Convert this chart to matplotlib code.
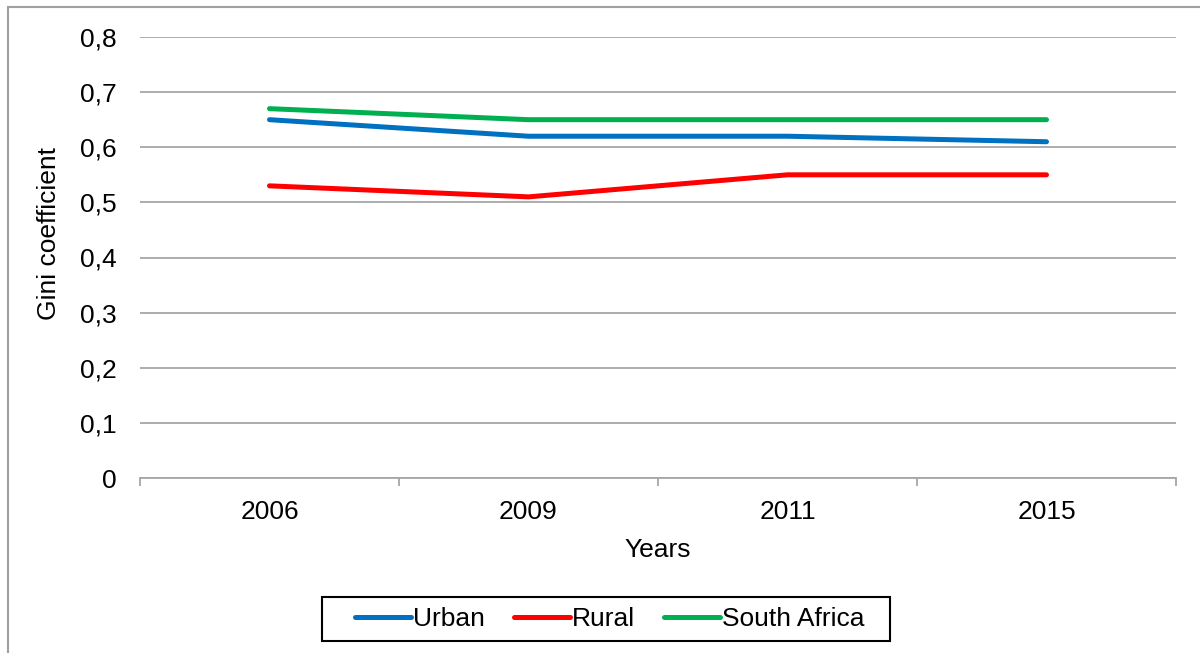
import matplotlib
matplotlib.use("Agg")
import matplotlib.pyplot as plt
from matplotlib.patches import Rectangle
from matplotlib.ticker import FuncFormatter, FixedLocator

years = ["2006", "2009", "2011", "2015"]
urban = [0.65, 0.62, 0.62, 0.61]
rural = [0.53, 0.51, 0.55, 0.55]
south_africa = [0.67, 0.65, 0.65, 0.65]

plt.rcParams['font.family'] = ['Liberation Sans', 'DejaVu Sans']
FS = 19
W, H = 1200, 653

fig = plt.figure(figsize=(12, 6.53), dpi=100)
# outer chart border (only left & top visible in reference)
fig.add_artist(Rectangle((8/W, -0.05), 1.2, 1 - 7/H + 0.05, transform=fig.transFigure,
                         fill=False, edgecolor='#a0a0a0', lw=1.5))

ax = fig.add_axes([140/W, 1 - 478/H, (1176 - 140)/W, (478 - 37)/H])
x = [i + 0.5 for i in range(len(years))]
ax.plot(x, urban, color='#0070C0', lw=3.6, solid_capstyle='round', label='Urban')
ax.plot(x, rural, color='#FF0000', lw=3.6, solid_capstyle='round', label='Rural')
ax.plot(x, south_africa, color='#00B050', lw=3.6, solid_capstyle='round', label='South Africa')

ax.set_xlim(0, len(years))
ax.set_ylim(0, 0.8)
ax.set_yticks([i / 10 for i in range(9)])
ax.yaxis.set_major_formatter(FuncFormatter(lambda v, p: ('%.1f' % v).replace('.', ',') if v != 0 else '0'))
ax.grid(axis='y', color='#a6a6a6', lw=1.3)
ax.set_axisbelow(True)
for s in ['top', 'right', 'left']:
    ax.spines[s].set_visible(False)
ax.spines['bottom'].set_color('#a6a6a6')
ax.spines['bottom'].set_linewidth(1.3)
ax.tick_params(axis='y', length=0, labelsize=FS, pad=17)
ax.xaxis.set_major_locator(FixedLocator(list(range(len(years) + 1))))
ax.xaxis.set_major_formatter(FuncFormatter(lambda v, p: ''))
ax.xaxis.set_minor_locator(FixedLocator(x))
ax.set_xticklabels(years, minor=True)
ax.tick_params(axis='x', which='major', length=6, color='#a6a6a6', width=1.3)
ax.tick_params(axis='x', which='minor', length=0, labelsize=FS, pad=16)
ax.set_xlabel('Years', fontsize=FS, labelpad=10)
ax.set_ylabel('Gini coefficient', fontsize=FS)
ax.yaxis.set_label_coords((61 - 140) / 1036, (478 - 234) / 441)

leg = fig.legend(loc='center', bbox_to_anchor=(609.5/W, 1 - 619/H), ncol=3,
                 fontsize=FS, frameon=False,
                 handlelength=2.12, handletextpad=0.08, columnspacing=1.1,
                 borderpad=0.0)
# legend frame
fig.add_artist(Rectangle((322/W, 1 - 641/H), (890 - 322)/W, (641 - 597)/H,
                         transform=fig.transFigure, fill=False, edgecolor='black', lw=1.5))

fig.savefig('out.png', dpi=100)
